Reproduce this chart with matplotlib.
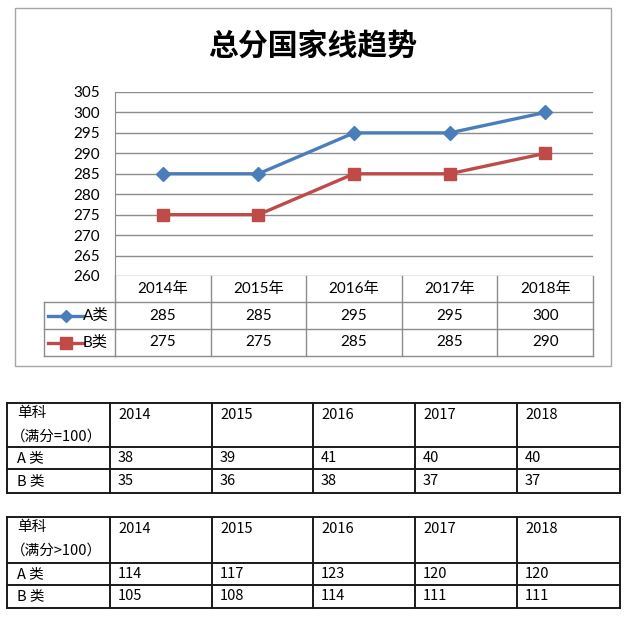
import matplotlib
matplotlib.use("Agg")
import matplotlib.pyplot as plt
import matplotlib.transforms as mtransforms
from matplotlib.patches import Rectangle

# data
years = ["2014", "2015", "2016", "2017", "2018"]
year_labels = [y + "年" for y in years]
series_names = ["A类", "B类"]
total_a = [285, 285, 295, 295, 300]
total_b = [275, 275, 285, 285, 290]
yticks = [260, 265, 270, 275, 280, 285, 290, 295, 300, 305]

single_a = [38, 39, 41, 40, 40]
single_b = [35, 36, 38, 37, 37]
multi_a = [114, 117, 123, 120, 120]
multi_b = [105, 108, 114, 111, 111]

BLUE = "#4A7EBB"
RED = "#BE4B48"
GRID = "#8c8c8c"
CJK = ["Noto Sans CJK SC", "DejaVu Sans"]
NUM = ["Lato", "Noto Sans CJK SC", "DejaVu Sans"]

W, H = 640, 619
fig = plt.figure(figsize=(W / 100, H / 100), dpi=100)

# overlay in pixel coordinates (y down)
over = fig.add_axes([0, 0, 1, 1])
over.set_xlim(0, W)
over.set_ylim(H, 0)
over.axis("off")
over.patch.set_alpha(0)

# chart frame and title
over.add_patch(Rectangle((15, 8), 596, 358, fill=False, edgecolor="#a6a6a6", lw=1))
over.text(313, 47, "总分国家线趋势", fontsize=21.5, fontweight="bold", family=CJK,
          ha="center", va="center")

# plot area
px_l, px_r, px_t, px_b = 115, 593, 92, 276
ax = fig.add_axes([px_l / W, (H - px_b) / H, (px_r - px_l) / W, (px_b - px_t) / H])
ax.patch.set_alpha(0)
x = list(range(len(years)))
ax.plot(x, total_a, color=BLUE, lw=2.4, marker="D", ms=7, zorder=3)
ax.plot(x, total_b, color=RED, lw=2.4, marker="s", ms=9, zorder=3)
ax.set_xlim(-0.5, len(years) - 0.5)
ax.set_ylim(yticks[0], yticks[-1])
ax.set_yticks(yticks)
ax.set_xticks([])
ax.yaxis.grid(True, color=GRID, lw=1)
ax.set_axisbelow(True)
for s in ["top", "right", "bottom"]:
    ax.spines[s].set_visible(False)
ax.spines["left"].set_color(GRID)
ax.tick_params(axis="y", length=0, pad=11, labelsize=11)
for lab in ax.get_yticklabels():
    lab.set_family(NUM)

# data table under the chart, x from the plot's own scale
bt = mtransforms.blended_transform_factory(ax.transData, over.transData)
row_y = [276, 302, 329, 356]
xl = -0.5
xr = len(years) - 0.5
for y in row_y[1:]:
    over.plot([44, px_l], [y, y], color=GRID, lw=1)
    over.plot([xl, xr], [y, y], color=GRID, lw=1, transform=bt)
over.plot([44, 44], [row_y[1], row_y[-1]], color=GRID, lw=1)
for i in range(len(years) + 1):
    over.plot([i - 0.5, i - 0.5], [row_y[0], row_y[-1]], color=GRID, lw=1, transform=bt)

for i, lab in enumerate(year_labels):
    over.text(i, (row_y[0] + row_y[1]) / 2, lab, transform=bt, ha="center", va="center",
              fontsize=11, family=NUM)
for r, (vals, col, mk, ms, name) in enumerate([(total_a, BLUE, "D", 6, series_names[0]),
                                                (total_b, RED, "s", 9, series_names[1])]):
    yc = (row_y[r + 1] + row_y[r + 2]) / 2
    for i, v in enumerate(vals):
        over.text(i, yc, str(v), transform=bt, ha="center", va="center", fontsize=11, family=NUM)
    over.plot([48, 83], [yc, yc], color=col, lw=2.4)
    over.plot([65.5], [yc], color=col, marker=mk, ms=ms)
    over.text(83, yc, name, ha="left", va="center", fontsize=11, family=NUM)

# lower tables
col_x = [7, 110, 212, 313, 415, 517, 620]


def draw_table(rows_y, note, a_vals, b_vals):
    for y in rows_y:
        over.plot([col_x[0], col_x[-1]], [y, y], color="#1a1a1a", lw=1.4)
    for cx in col_x:
        over.plot([cx, cx], [rows_y[0], rows_y[-1]], color="#1a1a1a", lw=1.4)
    over.text(17, rows_y[0] + 10, "单科", fontsize=10.5, family=CJK, va="center", ha="left")
    over.text(11, rows_y[0] + 34, note, fontsize=10.5, family=CJK, va="center", ha="left")
    for i, yr in enumerate(years):
        over.text(col_x[i + 1] + 8, rows_y[0] + 12, yr, fontsize=10.5, family=CJK,
                  va="center", ha="left")
    for r, (name, vals) in enumerate([("A 类", a_vals), ("B 类", b_vals)]):
        yc = (rows_y[r + 1] + rows_y[r + 2]) / 2
        over.text(17, yc, name, fontsize=10.5, family=CJK, va="center", ha="left")
        for i, v in enumerate(vals):
            over.text(col_x[i + 1] + 8, yc, str(v), fontsize=10.5, family=CJK,
                      va="center", ha="left")


draw_table([403, 447, 469, 493], "（满分=100）", single_a, single_b)
draw_table([517, 563, 585, 608], "（满分>100）", multi_a, multi_b)

fig.savefig("out.png", dpi=100)
